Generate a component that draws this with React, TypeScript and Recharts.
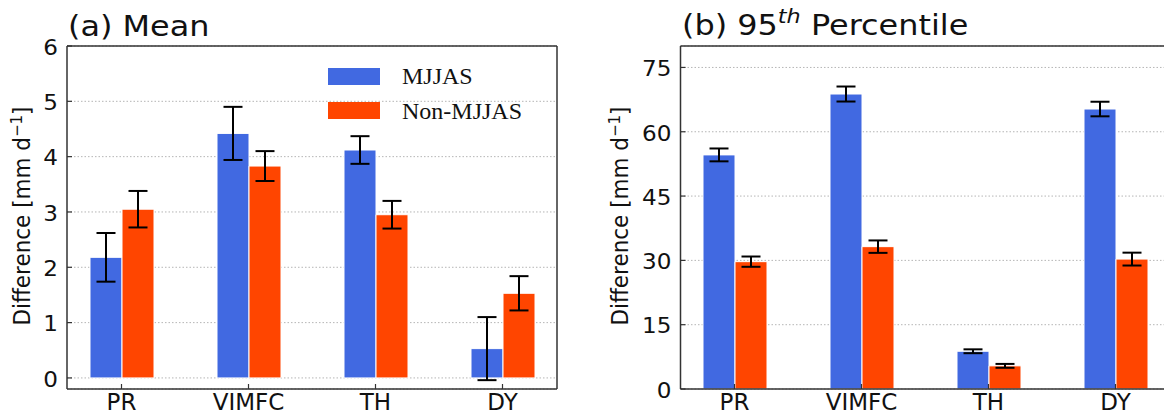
import React from 'react';
import { BarChart, Bar, XAxis, YAxis, CartesianGrid, ErrorBar, Legend } from 'recharts';

const categories = ['PR', 'VIMFC', 'TH', 'DY'];

// (a) Mean
const meanMjjas = [2.18, 4.42, 4.12, 0.53];
const meanMjjasErr = [0.44, 0.48, 0.25, 0.57];
const meanNon = [3.05, 3.83, 2.95, 1.53];
const meanNonErr = [0.33, 0.27, 0.25, 0.31];
const meanTicks = [0, 1, 2, 3, 4, 5, 6];

// (b) 95th percentile
const p95Mjjas = [54.6, 68.8, 8.8, 65.3];
const p95MjjasErr = [1.5, 1.75, 0.45, 1.7];
const p95Non = [29.7, 33.2, 5.4, 30.3];
const p95NonErr = [1.2, 1.45, 0.45, 1.5];
const p95Ticks = [0, 15, 30, 45, 60, 75];

const BLUE = '#4169e1';
const RED = '#ff4500';
const AXIS = '#333';
const FONT = '"DejaVu Sans", sans-serif';
const STRETCH = 1.1;

const meanData = categories.map((c, i) => ({
  name: c,
  mjjas: meanMjjas[i],
  mjjasErr: meanMjjasErr[i],
  non: meanNon[i],
  nonErr: meanNonErr[i],
}));

const p95Data = categories.map((c, i) => ({
  name: c,
  mjjas: p95Mjjas[i],
  mjjasErr: p95MjjasErr[i],
  non: p95Non[i],
  nonErr: p95NonErr[i],
}));

const YTick = (props: any) => {
  const { x, y, payload } = props;
  return (
    <g>
      <line x1={x + 8} x2={x + 13} y1={y} y2={y} stroke={AXIS} strokeWidth={1.2} />
      <text
        transform={`translate(${x - 1},${y + 1}) scale(1.05,1)`}
        textAnchor="end"
        dominantBaseline="central"
        fontSize={22}
        fontFamily={FONT}
        fill="#111"
      >
        {payload.value}
      </text>
    </g>
  );
};

const XTick = (props: any) => {
  const { x, y, payload } = props;
  return (
    <g>
      <line x1={x} x2={x} y1={y} y2={y - 5} stroke={AXIS} strokeWidth={1.2} />
      <text x={x} y={y + 21} textAnchor="middle" fontSize={23} fontFamily={FONT} fill="#111">
        {payload.value}
      </text>
    </g>
  );
};

const LegendBox = (props: any) => {
  const { payload } = props;
  return (
    <div>
      {(payload || []).map((p: any) => (
        <div key={p.value} style={{ display: 'flex', alignItems: 'center', height: 34.6 }}>
          <div style={{ width: 52, height: 17, background: p.color }} />
          <span
            style={{
              marginLeft: 22,
              fontFamily: '"Liberation Serif", serif',
              fontSize: 24,
              color: '#111',
              lineHeight: '24px',
            }}
          >
            {p.value}
          </span>
        </div>
      ))}
    </div>
  );
};

interface PanelProps {
  data: any[];
  ticks: number[];
  domain: [number, number];
  width: number;
  margin: { top: number; left: number; right: number; bottom: number };
  pad: number;
  legend?: boolean;
}

function Panel({ data, ticks, domain, width, margin, pad, legend }: PanelProps) {
  return (
    <BarChart width={width} height={416} data={data} margin={margin} barSize={32} barGap={0}>
      <CartesianGrid horizontal vertical={false} stroke="#b5b5b5" strokeDasharray="1.5 2" />
      <XAxis
        dataKey="name"
        height={1}
        padding={{ left: pad, right: pad }}
        axisLine={{ stroke: AXIS, strokeWidth: 1.5 }}
        tickLine={false}
        tickSize={0}
        tickMargin={0}
        tick={<XTick />}
        interval={0}
      />
      <XAxis
        xAxisId="top"
        dataKey="name"
        orientation="top"
        height={1}
        padding={{ left: pad, right: pad }}
        axisLine={{ stroke: AXIS, strokeWidth: 1.5 }}
        tick={false}
        tickLine={false}
      />
      <YAxis
        width={1}
        domain={domain}
        ticks={ticks}
        allowDataOverflow
        axisLine={{ stroke: AXIS, strokeWidth: 1.5 }}
        tickLine={false}
        tickSize={0}
        tickMargin={8}
        tick={<YTick />}
        interval={0}
      />
      <YAxis
        yAxisId="right"
        orientation="right"
        width={1}
        domain={domain}
        allowDataOverflow
        axisLine={{ stroke: AXIS, strokeWidth: 1.5 }}
        tick={false}
        tickLine={false}
      />
      <Bar dataKey="mjjas" name="MJJAS" fill={BLUE} stroke="#fff" strokeWidth={1} isAnimationActive={false}>
        <ErrorBar dataKey="mjjasErr" width={9.5} stroke="#000" strokeWidth={2} direction="y" isAnimationActive={false} />
      </Bar>
      <Bar dataKey="non" name="Non-MJJAS" fill={RED} stroke="#fff" strokeWidth={1} isAnimationActive={false}>
        <ErrorBar dataKey="nonErr" width={9.5} stroke="#000" strokeWidth={2} direction="y" isAnimationActive={false} />
      </Bar>
      {legend && (
        <Legend
          layout="vertical"
          align="center"
          verticalAlign="middle"
          content={<LegendBox />}
          wrapperStyle={{ position: 'absolute', left: 328, top: 59, width: 240 }}
        />
      )}
    </BarChart>
  );
}

const yLabel = (
  <span>
    Difference [mm d<span style={{ fontSize: '0.7em', position: 'relative', top: '-0.5em' }}>−1</span>]
  </span>
);

export default function App() {
  return (
    <div
      style={{
        position: 'absolute',
        left: 0,
        top: 0,
        width: 1164,
        height: 416,
        overflow: 'hidden',
        background: '#fff',
        fontFamily: FONT,
        color: '#111',
      }}
    >
      <div style={{ position: 'absolute', left: 0, top: 0 }}>
        <Panel
          data={meanData}
          ticks={meanTicks}
          domain={[-0.2, 6]}
          width={580}
          margin={{ top: 45, left: 66, right: 22, bottom: 26 }}
          pad={-9}
          legend
        />
      </div>
      <div style={{ position: 'absolute', left: 590, top: 0 }}>
        <Panel
          data={p95Data}
          ticks={p95Ticks}
          domain={[0, 80]}
          width={600}
          margin={{ top: 45, left: 89.5, right: 19.5, bottom: 26 }}
          pad={-9.5}
        />
      </div>

      {/* panel titles */}
      <div
        style={{
          position: 'absolute',
          left: 68,
          top: 12,
          fontSize: 29,
          lineHeight: '29px',
          whiteSpace: 'nowrap',
          transform: `scaleX(${STRETCH})`,
          transformOrigin: 'left',
        }}
      >
        (a) Mean
      </div>
      <div
        style={{
          position: 'absolute',
          left: 682,
          top: 10.5,
          fontSize: 29,
          lineHeight: '29px',
          whiteSpace: 'nowrap',
          transform: `scaleX(${STRETCH})`,
          transformOrigin: 'left',
        }}
      >
        (b) 95
        <span style={{ fontSize: '0.7em', fontStyle: 'italic', position: 'relative', top: '-0.55em' }}>th</span>{' '}
        Percentile
      </div>

      {/* y axis labels */}
      <div
        style={{
          position: 'absolute',
          left: 24,
          top: 216,
          fontSize: 21.5,
          lineHeight: '21px',
          whiteSpace: 'nowrap',
          transform: `translate(-50%,-50%) scaleX(1.05) rotate(-90deg)`,
        }}
      >
        {yLabel}
      </div>
      <div
        style={{
          position: 'absolute',
          left: 622,
          top: 216,
          fontSize: 21.5,
          lineHeight: '21px',
          whiteSpace: 'nowrap',
          transform: `translate(-50%,-50%) scaleX(1.05) rotate(-90deg)`,
        }}
      >
        {yLabel}
      </div>
    </div>
  );
}
